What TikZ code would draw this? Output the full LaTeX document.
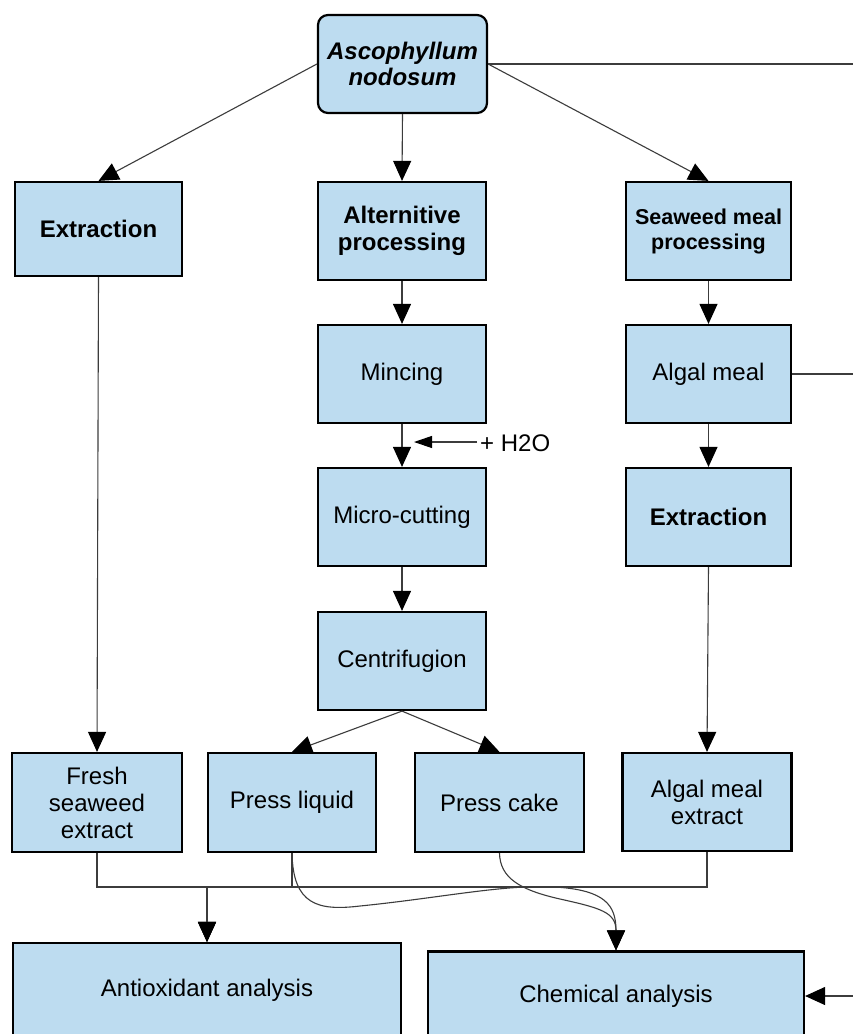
\documentclass[tikz,border=0pt]{standalone}
\usepackage{fontspec}
\setmainfont{Liberation Sans}
\usetikzlibrary{arrows.meta}
\definecolor{boxfill}{RGB}{189,220,240}
\definecolor{wire}{RGB}{60,60,60}
\begin{document}
\begin{tikzpicture}[x=1pt,y=-1pt,
  box/.style={draw=black, line width=2.2pt, fill=boxfill, align=center,
    inner sep=0pt, font=\fontsize{24}{27}\selectfont},
  bbox/.style={box, font=\fontsize{24}{27}\selectfont\bfseries},
  link/.style={draw=wire, line width=1.1pt},
  arr/.style={link, -{Triangle[length=20pt,width=18pt,color=black]}},
  sarr/.style={link, -{Triangle[length=18pt,width=12pt,color=black]}}]
\clip (0,0) rectangle (853,1034);
\fill[white] (0,0) rectangle (853,1034);

% process boxes
\node[bbox, rounded corners=10pt, minimum width=169pt, minimum height=98pt,
  font=\fontsize{24}{26}\selectfont\bfseries\itshape] (asco) at (402.5,64) {Ascophyllum\\nodosum};
\node[bbox, minimum width=167pt, minimum height=94pt] (extL) at (98.5,229) {Extraction};
\node[bbox, minimum width=168pt, minimum height=98pt] (alt) at (402,231) {Alternitive\\processing};
\node[bbox, minimum width=165pt, minimum height=98pt,
  font=\fontsize{21.5}{25}\selectfont\bfseries] (swm) at (708.5,231) {Seaweed meal\\processing};
\node[box, minimum width=168pt, minimum height=98pt] (minc) at (402,374) {Mincing};
\node[box, minimum width=165pt, minimum height=98pt] (algal) at (708.5,374) {Algal meal};
\node[box, minimum width=168pt, minimum height=98pt] (micro) at (402,517) {Micro-cutting};
\node[bbox, minimum width=165pt, minimum height=98pt] (extR) at (708.5,517) {Extraction};
\node[box, minimum width=168pt, minimum height=98pt] (centri) at (402,661) {Centrifugion};
\node[box, minimum width=170pt, minimum height=99pt] (fresh) at (97,802.5) {Fresh\\seaweed\\extract};
\node[box, minimum width=168pt, minimum height=99pt] (pliq) at (292,802.5) {Press liquid};
\node[box, minimum width=169pt, minimum height=99pt] (pcake) at (499.5,802.5) {Press cake};
\node[box, minimum width=169pt, minimum height=98pt] (ame) at (707,802) {Algal meal\\extract};
\node[box, minimum width=388pt, minimum height=95pt] (antiox) at (207,990.5) {Antioxidant analysis};
\node[box, minimum width=376pt, minimum height=89pt] (chem) at (616,996) {Chemical analysis};

% water input
\node[inner sep=0pt, anchor=west, font=\fontsize{24}{27}\selectfont] (h2o) at (480,443) {+ H2O};
\coordinate (h2otip) at (414,442);

% junction above the antioxidant analysis
\coordinate (jn) at (207,887);

% connectors leaving the picture on the right
\coordinate (offA) at (853,64);
\coordinate (offB) at (853,374);
\coordinate (offC) at (853,996);

% top level
\draw[arr] (asco.west) -- (extL.north);
\draw[arr] (asco.south) -- (alt.north);
\draw[arr] (asco.east) -- (swm.north);
\draw[link] (asco.east) -- (offA);

% middle column
\draw[arr] (alt.south) -- (minc.north);
\draw[arr] (minc.south) -- (micro.north);
\draw[sarr] ([xshift=-3pt]h2o.west |- h2otip) -- (h2otip);
\draw[arr] (micro.south) -- (centri.north);
\draw[arr] (centri.south) -- (pliq.north);
\draw[arr] (centri.south) -- (pcake.north);

% right column
\draw[arr] (swm.south) -- (algal.north);
\draw[link] (algal.east) -- (offB);
\draw[arr] (algal.south) -- (extR.north);
\draw[arr] (extR.south) -- (ame.north);

% left column
\draw[arr] (extL.south) -- (fresh.north);

% towards the analyses
\draw[arr] (fresh.south) |- (jn) -- (antiox.north);
\draw[arr] (pliq.south) |- (jn) -- (antiox.north);
\draw[arr] (ame.south) |- (jn) -- (antiox.north);
\draw[arr] (pliq.south) .. controls (293,905) and (318,911) .. (360,906)
  .. controls (440,898) and (505,884) .. (555,887)
  .. controls (605,890) and (616,905) .. (chem.north);
\draw[arr] (pcake.south) .. controls (500,878) and (520,890) .. (560,899)
  .. controls (600,908) and (616,912) .. (chem.north);
\draw[arr] (offC) -- (chem.east);
\end{tikzpicture}
\end{document}
